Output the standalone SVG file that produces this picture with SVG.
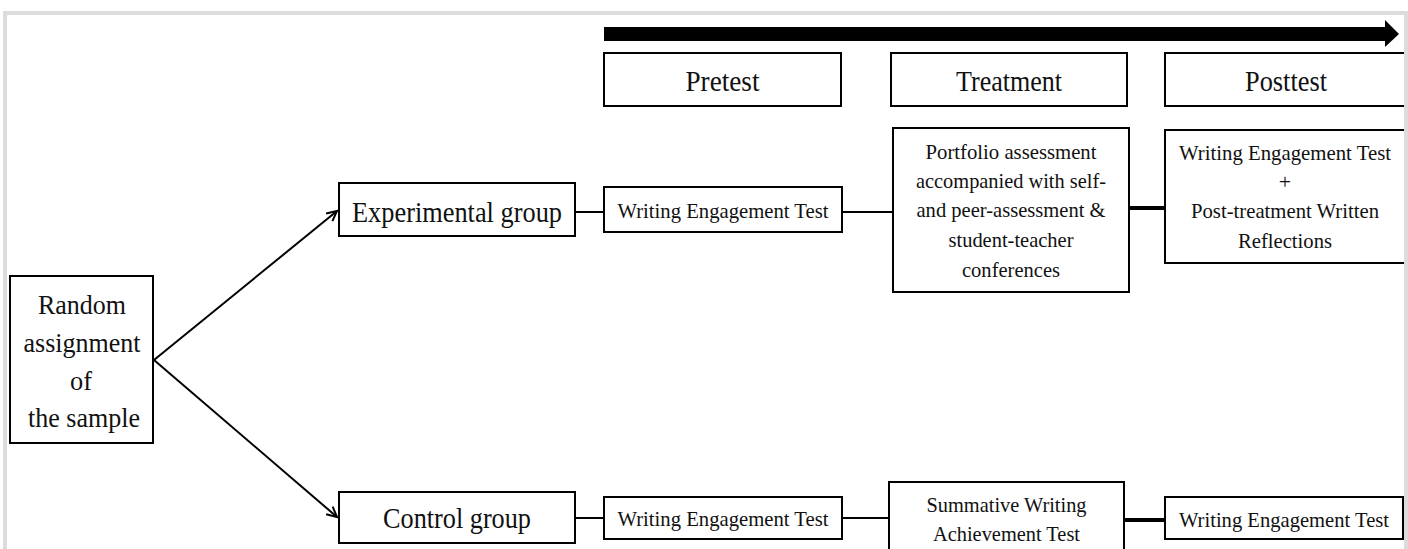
<svg xmlns="http://www.w3.org/2000/svg" width="1408" height="549" viewBox="0 0 1408 549">
<style>
  .box { fill: #ffffff; stroke: #000000; stroke-width: 2; }
  .t { font-family: "Liberation Serif", "DejaVu Serif", "Times New Roman", Times, serif; fill: #111111; text-anchor: middle; }
  .big { font-size: 30px; }
  .mid { font-size: 27px; }
  .sm { font-size: 22px; }
  .conn { stroke: #000000; stroke-width: 2; fill: none; }
  .thick { stroke: #000000; stroke-width: 4; fill: none; }
</style>
<defs>
  <marker id="openArrow" markerUnits="userSpaceOnUse" markerWidth="14" markerHeight="14" refX="11" refY="6" orient="auto">
    <path d="M1,1 L11,6 L1,11" fill="none" stroke="#000000" stroke-width="2"/>
  </marker>
</defs>
<rect x="0" y="0" width="1408" height="549" fill="#ffffff"/>

<g id="timeline">
  <rect x="604" y="27" width="783" height="14" fill="#000000"/>
  <polygon points="1385,20 1399,34 1385,47" fill="#000000"/>
</g>

<g id="connectors">
  <line class="conn" x1="154" y1="360" x2="337" y2="211" marker-end="url(#openArrow)"/>
  <line class="conn" x1="154" y1="360" x2="337" y2="517" marker-end="url(#openArrow)"/>
  <line class="conn" x1="575" y1="212" x2="604" y2="212"/>
  <line class="conn" x1="842" y1="212" x2="893" y2="212"/>
  <line class="thick" x1="1129" y1="208" x2="1165" y2="208"/>
  <line class="conn" x1="575" y1="518" x2="604" y2="518"/>
  <line class="conn" x1="842" y1="518" x2="889" y2="518"/>
  <line class="thick" x1="1124" y1="520" x2="1165" y2="520"/>
</g>

<g id="pretest-header">
  <rect class="box" x="604" y="53" width="237" height="53"/>
  <text class="t big" x="722.5" y="91" textLength="74" lengthAdjust="spacingAndGlyphs">Pretest</text>
</g>
<g id="treatment-header">
  <rect class="box" x="891" y="53" width="236" height="53"/>
  <text class="t big" x="1009" y="91" textLength="106" lengthAdjust="spacingAndGlyphs">Treatment</text>
</g>
<g id="posttest-header">
  <rect class="box" x="1165" y="53" width="250" height="53"/>
  <text class="t big" x="1286" y="91" textLength="82" lengthAdjust="spacingAndGlyphs">Posttest</text>
</g>

<g id="random-assignment">
  <rect class="box" x="10" y="276" width="143" height="167"/>
  <text class="t mid" x="82" y="314" textLength="88" lengthAdjust="spacingAndGlyphs">Random</text>
  <text class="t mid" x="82" y="352" textLength="117" lengthAdjust="spacingAndGlyphs">assignment</text>
  <text class="t mid" x="81" y="390" textLength="22" lengthAdjust="spacingAndGlyphs">of</text>
  <text class="t mid" x="84" y="427" textLength="112" lengthAdjust="spacingAndGlyphs">the sample</text>
</g>

<g id="experimental-group">
  <rect class="box" x="339" y="183" width="236" height="53"/>
  <text class="t big" x="457" y="222" textLength="210" lengthAdjust="spacingAndGlyphs">Experimental group</text>
</g>
<g id="control-group">
  <rect class="box" x="339" y="492" width="236" height="51"/>
  <text class="t big" x="457" y="528" textLength="148" lengthAdjust="spacingAndGlyphs">Control group</text>
</g>

<g id="exp-pretest">
  <rect class="box" x="604" y="187" width="238" height="45"/>
  <text class="t sm" x="723" y="218" textLength="211" lengthAdjust="spacingAndGlyphs">Writing Engagement Test</text>
</g>
<g id="exp-treatment">
  <rect class="box" x="893" y="128" width="236" height="164"/>
  <text class="t sm" x="1011" y="159" textLength="171" lengthAdjust="spacingAndGlyphs">Portfolio assessment</text>
  <text class="t sm" x="1011" y="188" textLength="190" lengthAdjust="spacingAndGlyphs">accompanied with self-</text>
  <text class="t sm" x="1011" y="217" textLength="189" lengthAdjust="spacingAndGlyphs">and peer-assessment &amp;</text>
  <text class="t sm" x="1011" y="247" textLength="125" lengthAdjust="spacingAndGlyphs">student-teacher</text>
  <text class="t sm" x="1011" y="277" textLength="98" lengthAdjust="spacingAndGlyphs">conferences</text>
</g>
<g id="exp-posttest">
  <rect class="box" x="1165" y="130" width="250" height="133"/>
  <text class="t sm" x="1285" y="160" textLength="212" lengthAdjust="spacingAndGlyphs">Writing Engagement Test</text>
  <text class="t sm" x="1285" y="189">+</text>
  <text class="t sm" x="1285" y="218" textLength="188" lengthAdjust="spacingAndGlyphs">Post-treatment Written</text>
  <text class="t sm" x="1285" y="248" textLength="94" lengthAdjust="spacingAndGlyphs">Reflections</text>
</g>

<g id="ctrl-pretest">
  <rect class="box" x="604" y="497" width="238" height="42"/>
  <text class="t sm" x="723" y="526" textLength="211" lengthAdjust="spacingAndGlyphs">Writing Engagement Test</text>
</g>
<g id="ctrl-treatment">
  <rect class="box" x="889" y="482" width="235" height="80"/>
  <text class="t sm" x="1006.5" y="512" textLength="160" lengthAdjust="spacingAndGlyphs">Summative Writing</text>
  <text class="t sm" x="1006.5" y="541" textLength="147" lengthAdjust="spacingAndGlyphs">Achievement Test</text>
</g>
<g id="ctrl-posttest">
  <rect class="box" x="1165" y="497" width="238" height="42"/>
  <text class="t sm" x="1284" y="527" textLength="210" lengthAdjust="spacingAndGlyphs">Writing Engagement Test</text>
</g>

<g id="frame">
  <rect x="3" y="11" width="4" height="540" fill="#dcdcdc"/>
  <rect x="3" y="11" width="1405" height="4" fill="#dcdcdc"/>
  <rect x="1404" y="11" width="4" height="540" fill="#dcdcdc"/>
</g>
</svg>
